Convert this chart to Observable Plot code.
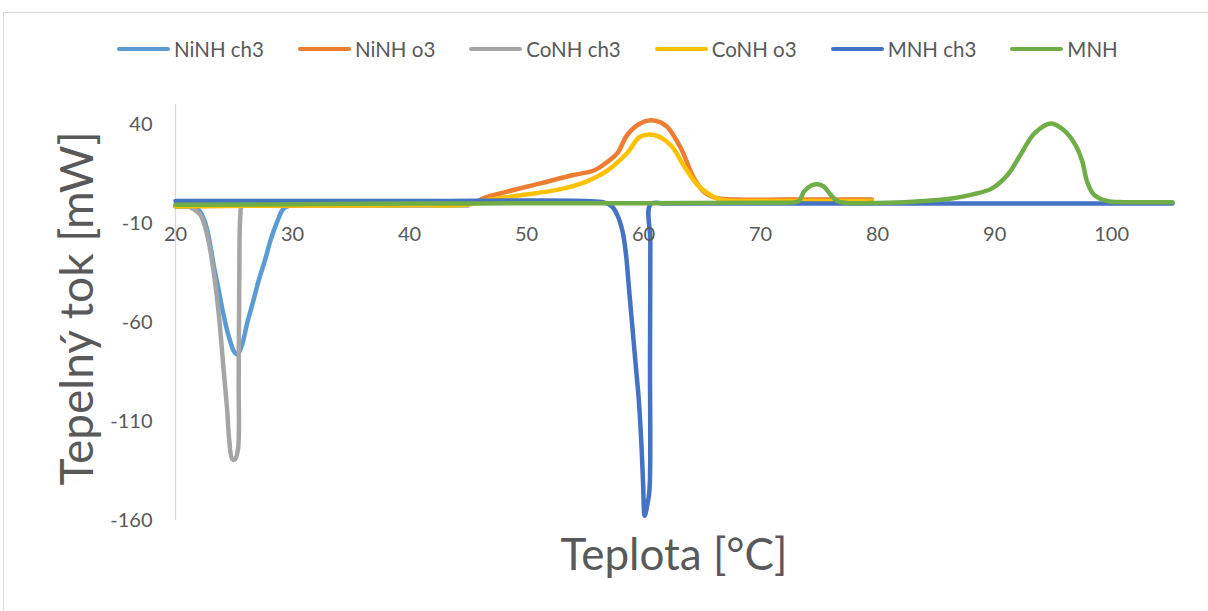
<!DOCTYPE html>
<html>
<head>
<meta charset="utf-8">
<script src="https://cdn.jsdelivr.net/npm/d3@7"></script>
<script src="https://cdn.jsdelivr.net/npm/@observablehq/plot@0.6"></script>
<style>
  body { margin: 0; background: #fff; font-family: Lato, "Open Sans", sans-serif; }
  #chart { position: relative; width: 1208px; height: 611px; overflow: hidden; }
  #frame { position: absolute; left: 3px; top: 12px; width: 1400px; height: 800px;
           border-left: 1.5px solid #d9d9d9; border-top: 1.5px solid #d9d9d9; }
  #plot { position: absolute; left: 0; top: 0; }
  #legend { position: absolute; top: 37px; left: 117px; display: flex; align-items: center;
            font-size: 20.5px; color: #595959; white-space: nowrap; }
  #legend .item { display: flex; align-items: center; margin-right: 34px; }
  #legend .swatch { width: 53px; height: 4.5px; border-radius: 2px; margin-right: 4px; }
</style>
</head>
<body>
<div id="chart">
  <div id="frame"></div>
  <div id="plot"></div>
  <div id="legend"></div>
</div>
<script>
// Series names and their colours (drawing order: first is drawn underneath)
const series = ["NiNH ch3", "NiNH o3", "CoNH ch3", "CoNH o3", "MNH ch3", "MNH"];
const colors = ["#5B9BD5", "#ED7D31", "#A5A5A5", "#FFC000", "#4472C4", "#70AD47"];

// Axis ticks
const xTicks = [20, 30, 40, 50, 60, 70, 80, 90, 100];
const yTicks = [40, -10, -60, -110, -160];

// DSC heat flow curves: [temperature °C, heat flow mW]
const niNHch3 = [
  [20, -1.4], [21, -1.4], [21.85, -2.4], [22.4, -7.4], [22.8, -15.7], [23.25, -30.7],
  [23.7, -44], [24.1, -56], [24.5, -66], [25.0, -74.7], [25.3, -76.2], [25.7, -71],
  [26.1, -61], [26.7, -48], [27.1, -39], [27.7, -27.5], [28.1, -19], [28.7, -9],
  [29.2, -2.8], [29.7, -1.2], [35, -0.9], [45, -0.8]
];
const niNHo3 = [
  [20, -1.4], [30, -1.0], [40, -0.8], [44, -0.6], [45.5, 0.3], [46.35, 2.7], [48.35, 6],
  [51.2, 10.2], [54.0, 14.4], [55.8, 16.8], [56.9, 21], [57.75, 25.3], [58.6, 34.6],
  [59.7, 40.4], [60.6, 42.1], [61.45, 41], [62.0, 38.8], [63.2, 27.8], [64.3, 12.8],
  [65.15, 6], [66.3, 2.7], [68, 2.0], [72, 2.0], [76, 2.0], [79.5, 2.0]
];
const coNHch3 = [
  [20, -1.4], [21, -1.4], [21.3, -2], [22.1, -5.5], [22.7, -15.7], [23.25, -34],
  [23.7, -56], [24.1, -83], [24.4, -103], [24.6, -120], [24.85, -129], [25.1, -129],
  [25.35, -123.5], [25.4, -90], [25.45, -39], [25.55, -5.5], [25.7, -1.2], [35, -0.9], [45, -0.8]
];
const coNHo3 = [
  [20, -1.4], [30, -1.0], [40, -0.8], [45, -0.5], [46.9, 2.0], [49.8, 4.4], [52.6, 6.9],
  [54.9, 10.6], [56.9, 16.6], [58.6, 25.5], [59.7, 33.7], [60.9, 34.6], [62.3, 29.6],
  [63.4, 19.5], [64.6, 9.4], [65.7, 4.4], [66.6, 1.9], [70, 1.3], [75, 1.3], [79.5, 1.3]
];
const mnhCh3 = [
  [20, 1.3], [40, 1.3], [55, 1.3], [56.6, 0.6], [57.3, -1.5], [57.75, -5.7], [58.2, -14],
  [58.5, -25.8], [58.75, -42.6], [59.0, -59.4], [59.3, -79.6], [59.6, -99.7], [59.8, -119.8],
  [59.95, -140], [60.1, -157.6], [60.3, -152.6], [60.5, -145], [60.55, -80], [60.58, -20],
  [60.6, -0.3], [62, 0], [80, 0], [105.2, 0]
];
const mnh = [
  [20, -0.6], [30, -0.4], [40, 0], [50, 0.1], [60, 0.2], [70, 0.4], [72.85, 0.6], [73.3, 1.3],
  [73.7, 6], [74.3, 9], [74.85, 9.7], [75.4, 8.5], [76, 4.4], [76.55, 1.3], [77.4, 0.3],
  [80, 0.3], [83, 0.9], [86.2, 2.4], [87.95, 4.4], [89.7, 7.4], [91.1, 14.4], [92.2, 24.5],
  [93.4, 35.4], [94.8, 40.4], [95.9, 37.1], [96.9, 29.6], [97.5, 21.1], [97.9, 11.1],
  [98.5, 4.4], [99.6, 1.3], [101.05, 0.7], [105.2, 0.7]
];
const curves = [niNHch3, niNHo3, coNHch3, coNHo3, mnhCh3, mnh];

const rows = series.flatMap((name, i) => curves[i].map(([t, q]) => ({ series: name, t, q })));

const textColor = "#595959";

const chart = Plot.plot({
  width: 1208,
  height: 611,
  marginLeft: 175,
  marginRight: 36,
  marginTop: 104,
  marginBottom: 91,
  style: { fontFamily: "Lato, 'Open Sans', sans-serif", background: "transparent", color: textColor },
  x: { domain: [20, 105.2], axis: null },
  y: { domain: [-160, 50], axis: null },
  color: { domain: series, range: colors },
  marks: [
    Plot.ruleX([20], { stroke: "#d9d9d9", strokeWidth: 1.3 }),
    Plot.ruleY([0], { stroke: "#d9d9d9", strokeWidth: 1 }),
    Plot.axisY(yTicks, {
      tickSize: 0, tickPadding: 23, fontSize: 20, color: textColor, label: null,
      tickFormat: (d) => String(d)
    }),
    ...series.map((name) =>
      Plot.line(rows.filter((d) => d.series === name), {
        x: "t", y: "q", stroke: "series", strokeWidth: 4.5,
        curve: "catmull-rom", strokeLinejoin: "round", strokeLinecap: "round"
      })
    ),
    Plot.text(xTicks, {
      x: (d) => d, y: () => 0, text: (d) => String(d), dy: 31, fontSize: 20,
      fill: textColor, ariaLabel: "x-tick-label"
    }),
    Plot.text(["Tepelný tok [mW]"], {
      frameAnchor: "left", textAnchor: "middle", rotate: -90, dx: -97, dy: -4,
      fontSize: 46, fill: textColor
    }),
    Plot.text(["Teplota [°C]"], {
      frameAnchor: "bottom", dy: 49, fontSize: 44, fill: textColor
    })
  ]
});

// Spaced-out digits on the temperature axis labels
d3.select(chart).selectAll('g[aria-label="x-tick-label"] text').attr("letter-spacing", "3.5px");

document.getElementById("plot").append(chart);

// Legend built from the same series / colour arrays
const legend = d3.select("#legend");
series.forEach((name, i) => {
  const item = legend.append("div").attr("class", "item");
  item.append("span").attr("class", "swatch").style("background", colors[i]);
  item.append("span").text(name);
});
</script>
</body>
</html>
